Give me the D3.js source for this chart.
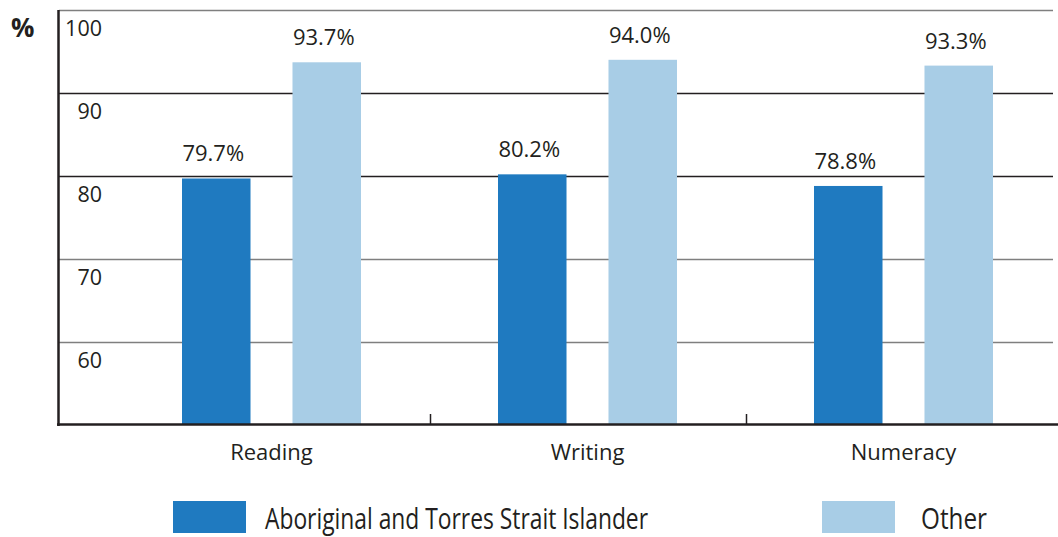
<!DOCTYPE html>
<html>
<head>
<meta charset="utf-8">
<script src="https://cdn.jsdelivr.net/npm/d3@7"></script>
<style>
  html, body { margin: 0; padding: 0; background: #fff; }
  svg { display: block; font-family: "Open Sans", "Noto Sans", sans-serif; }
</style>
</head>
<body>
<svg id="chart" width="1058" height="537"></svg>
<script>
// Share of students at or above the national minimum standard
const categories = ["Reading", "Writing", "Numeracy"];
const seriesNames = ["Aboriginal and Torres Strait Islander", "Other"];
const indigenousValues = [79.7, 80.2, 78.8];
const otherValues = [93.7, 94.0, 93.3];
const yTicks = [60, 70, 80, 90, 100];
const seriesColors = ["#1f7ac0", "#a8cde6"];

const svg = d3.select("#chart");
const ink = "#231f20";

const y = d3.scaleLinear().domain([50, 100]).range([425, 10]);
const x0 = d3.scaleBand().domain(categories).range([113.5, 1061.5]).padding(0);
const x1 = d3.scaleBand().domain(seriesNames).range([68.5, 247.5]).paddingInner(0.38).paddingOuter(0);
const color = d3.scaleOrdinal().domain(seriesNames).range(seriesColors);

const rows = categories.map((c, i) => ({
  category: c,
  values: [
    { series: seriesNames[0], value: indigenousValues[i] },
    { series: seriesNames[1], value: otherValues[i] }
  ]
}));

// Horizontal gridlines; alternating grey / dark as printed
const darkLines = new Set([80, 90]);
svg.append("g").selectAll("line")
  .data(yTicks)
  .join("line")
  .attr("x1", 59).attr("x2", 1053)
  .attr("y1", d => Math.round(y(d)) + 0.5)
  .attr("y2", d => Math.round(y(d)) + 0.5)
  .attr("stroke", d => darkLines.has(d) ? ink : "#7f7f7f")
  .attr("stroke-width", 1.3);

// Tick labels hang just below each gridline
svg.append("g").selectAll("text")
  .data(yTicks)
  .join("text")
  .attr("x", 102)
  .attr("y", d => y(d) + 26)
  .attr("text-anchor", "end")
  .attr("font-size", 21.5)
  .attr("fill", ink)
  .text(d => d);

// Bars
const groups = svg.append("g").selectAll("g")
  .data(rows)
  .join("g")
  .attr("transform", d => `translate(${x0(d.category)},0)`);

groups.selectAll("rect")
  .data(d => d.values)
  .join("rect")
  .attr("x", d => x1(d.series))
  .attr("width", x1.bandwidth())
  .attr("y", d => y(d.value))
  .attr("height", d => y(50) - y(d.value))
  .attr("fill", d => color(d.series));

groups.selectAll("text.value")
  .data(d => d.values)
  .join("text")
  .attr("class", "value")
  .attr("x", d => x1(d.series) + x1.bandwidth() / 2 - 3)
  .attr("y", d => y(d.value) - 17)
  .attr("text-anchor", "middle")
  .attr("font-size", 22)
  .attr("fill", ink)
  .text(d => d.value.toFixed(1) + "%");

// Axes
svg.append("line")
  .attr("x1", 58.5).attr("x2", 58.5)
  .attr("y1", 10).attr("y2", 426)
  .attr("stroke", ink).attr("stroke-width", 2.5);
svg.append("line")
  .attr("x1", 57).attr("x2", 1058)
  .attr("y1", 424.5).attr("y2", 424.5)
  .attr("stroke", ink).attr("stroke-width", 2.5);

// Separator ticks between category groups
svg.append("g").selectAll("line")
  .data(categories.slice(1))
  .join("line")
  .attr("x1", d => Math.round(x0(d)) + 0.5)
  .attr("x2", d => Math.round(x0(d)) + 0.5)
  .attr("y1", 414).attr("y2", 424)
  .attr("stroke", ink).attr("stroke-width", 1.5);

// Category labels
svg.append("g").selectAll("text")
  .data(categories)
  .join("text")
  .attr("x", d => x0(d) + x0.bandwidth() / 2)
  .attr("y", 460)
  .attr("text-anchor", "middle")
  .attr("font-size", 22)
  .attr("fill", ink)
  .text(d => d);

// Unit label
svg.append("text")
  .attr("x", 11).attr("y", 37)
  .attr("font-size", 26)
  .attr("font-weight", "bold")
  .attr("fill", ink)
  .text("%");

// Legend
const legendItems = [
  { name: seriesNames[0], sx: 173, tx: 265, tw: 383 },
  { name: seriesNames[1], sx: 822, tx: 921, tw: 66 }
];
const legend = svg.append("g").selectAll("g")
  .data(legendItems)
  .join("g");
legend.append("rect")
  .attr("x", d => d.sx).attr("y", 501)
  .attr("width", 73).attr("height", 32)
  .attr("fill", d => color(d.name));
legend.append("text")
  .attr("x", d => d.tx).attr("y", 529)
  .attr("font-size", 29)
  .attr("fill", ink)
  .attr("textLength", d => d.tw)
  .attr("lengthAdjust", "spacingAndGlyphs")
  .text(d => d.name);
</script>
</body>
</html>
